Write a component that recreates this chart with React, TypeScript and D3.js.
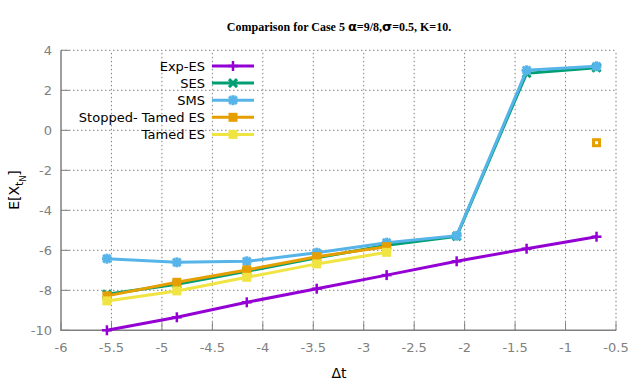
import React from 'react';
import * as d3 from 'd3';

// log(Δt) for Δt = 2^-8 ... 2^-1
const logDt = [-5.545, -4.852, -4.159, -3.466, -2.773, -2.079, -1.386, -0.693];

const expES = [-10.0, -9.35, -8.6, -7.92, -7.24, -6.55, -5.92, -5.32];
const ses = [-8.2, -7.7, -7.05, -6.38, -5.75, -5.3, 2.85, 3.13];
const sms = [-6.42, -6.6, -6.55, -6.12, -5.62, -5.27, 3.0, 3.2];
const stoppedTamed = [-8.28, -7.6, -6.98, -6.32, -5.82, null, null, -0.62];
const tamedES = [-8.53, -8.03, -7.35, -6.68, -6.1, null, null, null];

const xTicks = [-6, -5.5, -5, -4.5, -4, -3.5, -3, -2.5, -2, -1.5, -1, -0.5];
const yTicks = [-10, -8, -6, -4, -2, 0, 2, 4];

const series = [
  { name: 'Exp-ES', values: expES, color: '#9400d3', marker: 'plus' },
  { name: 'SES', values: ses, color: '#009e73', marker: 'cross' },
  { name: 'SMS', values: sms, color: '#56b4e9', marker: 'star' },
  { name: 'Stopped- Tamed ES', values: stoppedTamed, color: '#e69f00', marker: 'square' },
  { name: 'Tamed ES', values: tamedES, color: '#f0e442', marker: 'square' },
];

const W = 640;
const H = 384;
const margin = { left: 61, right: 24, top: 50.3, bottom: 53.7 };
const tickGray = '#808080';
const font = 'DejaVu Sans, sans-serif';

const Marker = ({ type, x, y, color }) => {
  const s = 5;
  if (type === 'plus') {
    return (
      <g stroke={color} strokeWidth={2.5}>
        <line x1={x - s} x2={x + s} y1={y} y2={y} />
        <line x1={x} x2={x} y1={y - s} y2={y + s} />
      </g>
    );
  }
  if (type === 'cross') {
    const c = 4;
    return (
      <g stroke={color} strokeWidth={3}>
        <line x1={x - c} x2={x + c} y1={y - c} y2={y + c} />
        <line x1={x - c} x2={x + c} y1={y + c} y2={y - c} />
      </g>
    );
  }
  if (type === 'star') {
    const c = 3.8;
    return (
      <g stroke={color} strokeWidth={3}>
        <line x1={x - s} x2={x + s} y1={y} y2={y} />
        <line x1={x} x2={x} y1={y - s} y2={y + s} />
        <line x1={x - c} x2={x + c} y1={y - c} y2={y + c} />
        <line x1={x - c} x2={x + c} y1={y + c} y2={y - c} />
      </g>
    );
  }
  return <rect x={x - 4.5} y={y - 4.5} width={9} height={9} fill={color} />;
};

export default function App() {
  const x = d3.scaleLinear().domain([-6, -0.5]).range([margin.left, W - margin.right]);
  const y = d3.scaleLinear().domain([-10, 4]).range([H - margin.bottom, margin.top]);

  const line = d3
    .line<any>()
    .defined((d) => d[1] !== null)
    .x((d) => x(d[0]))
    .y((d) => y(d[1]));

  const x0 = x.range()[0];
  const x1 = x.range()[1];
  const y0 = y.range()[0];
  const y1 = y.range()[1];

  const legendX = 205;
  const legendY = 66;
  const legendStep = 17.1;

  return (
    <svg
      width={W}
      height={H}
      style={{ position: 'absolute', left: 0, top: 0, background: 'white' }}
    >
      {/* title */}
      <text
        x={339}
        y={31}
        textAnchor="middle"
        fontFamily="Liberation Serif, serif"
        fontWeight="bold"
        fontSize={12}
      >
        Comparison for Case 5{' '}
        <tspan fontFamily={font} fontSize={13}>α</tspan>=9/8,
        <tspan fontFamily={font} fontSize={13}>σ</tspan>=0.5, K=10.
      </text>

      {/* grid */}
      <g stroke={tickGray} strokeWidth={1} strokeDasharray="1.5,2.5">
        {xTicks.slice(1).map((t) => (
          <line key={'gx' + t} x1={x(t)} x2={x(t)} y1={y0} y2={y1} />
        ))}
        {yTicks.slice(1).map((t) => (
          <line key={'gy' + t} x1={x0} x2={x1} y1={y(t)} y2={y(t)} />
        ))}
      </g>

      {/* border left + bottom */}
      <path
        d={`M${x0},${y1}V${y0}H${x1}`}
        fill="none"
        stroke={tickGray}
        strokeWidth={1.5}
      />

      {/* ticks */}
      <g stroke={tickGray} strokeWidth={1}>
        {xTicks.map((t) => (
          <line key={'tx' + t} x1={x(t)} x2={x(t)} y1={y0} y2={y0 - 8} />
        ))}
        {yTicks.map((t) => (
          <line key={'ty' + t} x1={x0} x2={x0 + 8} y1={y(t)} y2={y(t)} />
        ))}
      </g>

      {/* tick labels */}
      <g fill={tickGray} fontFamily={font} fontSize={13}>
        {xTicks.map((t) => (
          <text key={'lx' + t} x={x(t)} y={y0 + 22} textAnchor="middle">
            {String(t)}
          </text>
        ))}
        {yTicks.map((t) => (
          <text key={'ly' + t} x={x0 - 9} y={y(t) + 5} textAnchor="end">
            {String(t)}
          </text>
        ))}
      </g>

      {/* axis labels */}
      <text x={339} y={378} textAnchor="middle" fontFamily={font} fontSize={14}>
        Δt
      </text>
      <text
        transform="translate(19,190) rotate(-90)"
        textAnchor="middle"
        fontFamily={font}
        fontSize={14}
      >
        E[X
        <tspan fontSize={11} dy={4}>t</tspan>
        <tspan fontSize={8} dy={3}>N</tspan>
        <tspan dy={-7}>]</tspan>
      </text>

      {/* series */}
      {series.map((s) => {
        const pts = logDt.map((v, i) => [v, s.values[i]]);
        return (
          <g key={s.name}>
            <path
              d={line(pts) || ''}
              fill="none"
              stroke={s.color}
              strokeWidth={3}
            />
            {pts
              .filter((p) => p[1] !== null)
              .map((p, i) => (
                <Marker key={i} type={s.marker} x={x(p[0])} y={y(p[1])} color={s.color} />
              ))}
          </g>
        );
      })}

      {/* isolated Stopped-Tamed point has a white centre */}
      {logDt.map((v, i) => {
        const val = stoppedTamed[i];
        const isolated =
          val !== null &&
          (i === 0 || stoppedTamed[i - 1] === null) &&
          (i === logDt.length - 1 || stoppedTamed[i + 1] === null);
        return isolated ? (
          <rect key={'iso' + i} x={x(v) - 1.5} y={y(val) - 1.5} width={3} height={3} fill="white" />
        ) : null;
      })}

      {/* legend */}
      {series.map((s, i) => {
        const ly = legendY + i * legendStep;
        return (
          <g key={'leg' + s.name}>
            <text
              x={legendX}
              y={ly + 5}
              textAnchor="end"
              fontFamily={font}
              fontSize={13}
            >
              {s.name}
            </text>
            <line x1={212} x2={254} y1={ly} y2={ly} stroke={s.color} strokeWidth={3} />
            <Marker type={s.marker} x={233} y={ly} color={s.color} />
          </g>
        );
      })}
    </svg>
  );
}
